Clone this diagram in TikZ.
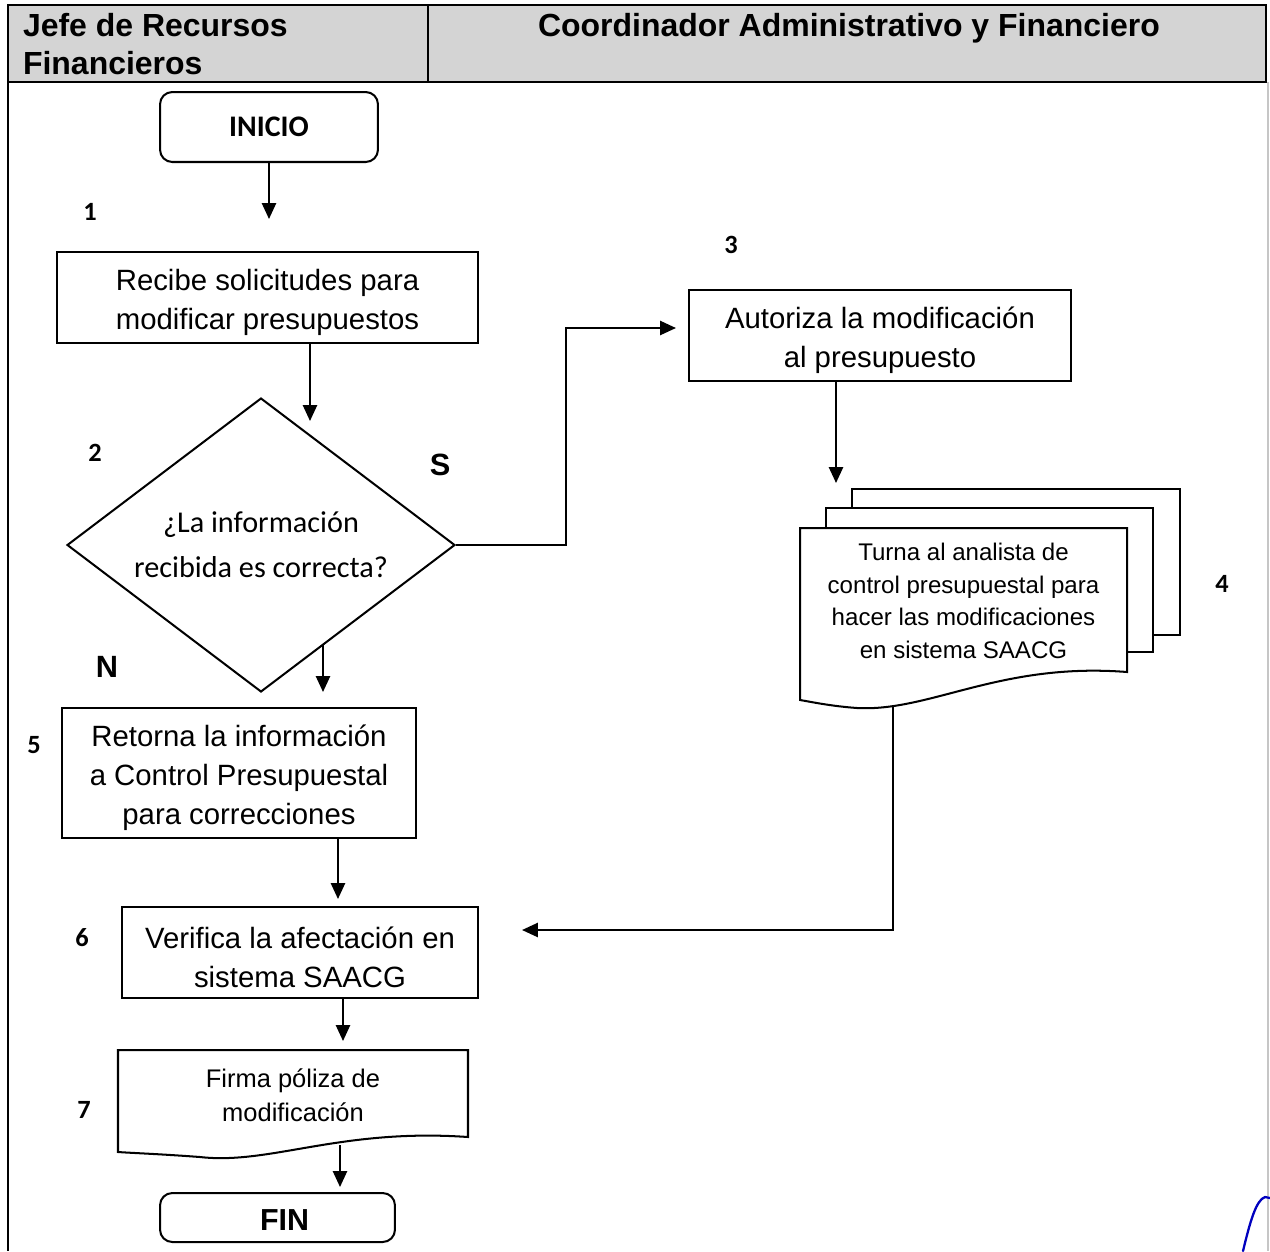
\documentclass[tikz,border=0pt]{standalone}
\usepackage{fontspec}
\setmainfont{Liberation Sans}
\newfontfamily\carl{Carlito}
\usetikzlibrary{arrows.meta,shapes.geometric}

\begin{document}
\begin{tikzpicture}[x=0.02cm,y=-0.02cm,
  line width=1.15pt,
  arr/.style={-{Triangle[length=9pt,width=8pt]}},
  proc/.style={draw, fill=white, inner sep=0pt},
  ptext/.style={inner sep=0pt, align=center, yshift=-2.8pt,
    font=\fontsize{16.7}{22.2}\selectfont},
  term/.style={draw, fill=white, rounded corners=7pt, inner sep=0pt},
  num/.style={font=\carl\bfseries\fontsize{15}{17}\selectfont, inner sep=0pt},
  yn/.style={font=\bfseries\fontsize{17.5}{19}\selectfont, inner sep=0pt},
  sheet/.style={draw, fill=white},
  doctext/.style={inner sep=0pt, align=center}
]
\useasboundingbox (0,0) rectangle (1270,1251);

% lane header
\draw[fill=gray!34] (8,5) rectangle (1266,82);
\draw (428,5) -- (428,82);
\node[anchor=west, align=left, inner sep=0pt,
      font=\bfseries\fontsize{18.2}{21.6}\selectfont] (h1) at (22,44)
  {Jefe de Recursos\\Financieros};
\node[anchor=west, inner sep=0pt,
      font=\bfseries\fontsize{18.2}{21.6}\selectfont] (h2) at (537,28)
  {Coordinador Administrativo y Financiero};

% lane borders
\draw (8,82) -- (8,1251);
\draw[gray!45, line width=0.6pt] (1268,82) -- (1268,1251);

% start
\node[term, minimum width=4.36cm, minimum height=1.4cm,
      font=\carl\bfseries\fontsize{17}{20}\selectfont] (ini) at (269,127) {INICIO};

% step 1
\node[proc, minimum width=8.42cm, minimum height=1.82cm] (b1) at (267.5,297.5) {};
\node[ptext] (b1t) at (b1.center) {Recibe solicitudes para\\modificar presupuestos};

% step 2: decision
\node[draw, diamond, shape aspect=1.32, inner sep=0pt,
      minimum width=7.76cm, minimum height=5.88cm,
      font=\carl\fontsize{17.2}{25.6}\selectfont, align=center] (d2) at (261,545)
  {¿La información\\recibida es correcta?};

% step 3
\node[proc, minimum width=7.64cm, minimum height=1.82cm] (b3) at (880,335.5) {};
\node[ptext] (b3t) at (b3.center) {Autoriza la modificación\\al presupuesto};

% step 4: stacked documents
\draw[sheet] (852,489) rectangle (1180,635);
\draw[sheet] (826,508) rectangle (1153,652);
\draw[sheet] (800,528) -- (1127,528) -- (1127,672)
  .. controls (1000,662) and (930,712) .. (857,708)
  .. controls (830,706) and (812,702) .. (800,700) -- cycle;
\node[doctext, font=\fontsize{13.7}{18.6}\selectfont] (d4) at (963.5,601)
  {Turna al analista de\\control presupuestal para\\hacer las modificaciones\\en sistema SAACG};
\coordinate (d4b) at (893,706);

% step 5
\node[proc, minimum width=7.08cm, minimum height=2.6cm] (b5) at (239,773) {};
\node[ptext] (b5t) at (b5.center)
  {Retorna la información\\a Control Presupuestal\\para correcciones};

% step 6
\node[proc, minimum width=7.12cm, minimum height=1.82cm] (b6) at (300,952.5) {};
\node[ptext] (b6t) at (b6.center) {Verifica la afectación en\\sistema SAACG};
\coordinate (b6in) at (522,930);

% step 7: document
\draw[sheet] (118,1050) -- (468,1050) -- (468,1137)
  .. controls (340,1128) and (270,1165) .. (200,1157)
  .. controls (160,1154) and (132,1153) .. (118,1152) -- cycle;
\node[doctext, font=\fontsize{14.5}{19.4}\selectfont] (d7) at (293,1095)
  {Firma póliza de\\modificación};
\coordinate (d7b) at (340,1145);

% end
\node[term, minimum width=4.7cm, minimum height=0.98cm] (fin) at (277.5,1217.5) {};
\node[inner sep=0pt, font=\bfseries\fontsize{17.3}{20}\selectfont] (fint) at (284.5,1220) {FIN};

% step numbers and branch labels
\node[num] (n1) at (90,212) {1};
\node[num] (n2) at (95,453) {2};
\node[num] (n3) at (731,245) {3};
\node[num] (n4) at (1222,584) {4};
\node[num] (n5) at (34,745) {5};
\node[num] (n6) at (82,938) {6};
\node[num] (n7) at (84,1110) {7};
\node[yn] (ls) at (440,465) {S};
\node[yn] (ln) at (107,667) {N};

% connectors
\draw[arr] (ini.south) -- ++(0,56);
\draw[arr] ([xshift=0.85cm]b1.south) -- ++(0,77);
\draw[arr] (d2.east) -- ++(110,0) -- ++(0,-217) -- ++(110,0);
\draw[arr] ([xshift=-0.88cm]b3.south) -- ++(0,101);
\draw[arr] (d4b) |- (b6in);
\draw[arr] ([shift={(62,100)}]d2.center) -- ++(0,47);
\draw[arr] ([xshift=1.98cm]b5.south) -- ++(0,60);
\draw[arr] ([xshift=0.86cm]b6.south) -- ++(0,42);
\draw[arr] (d7b) -- ++(0,42);

% ink stroke at the lower right edge
\draw[blue!75!black, line width=1.3pt, line cap=round]
  (1243,1251) .. controls (1250,1222) and (1256,1200) .. (1265,1197) -- (1270,1198);
\end{tikzpicture}
\end{document}
